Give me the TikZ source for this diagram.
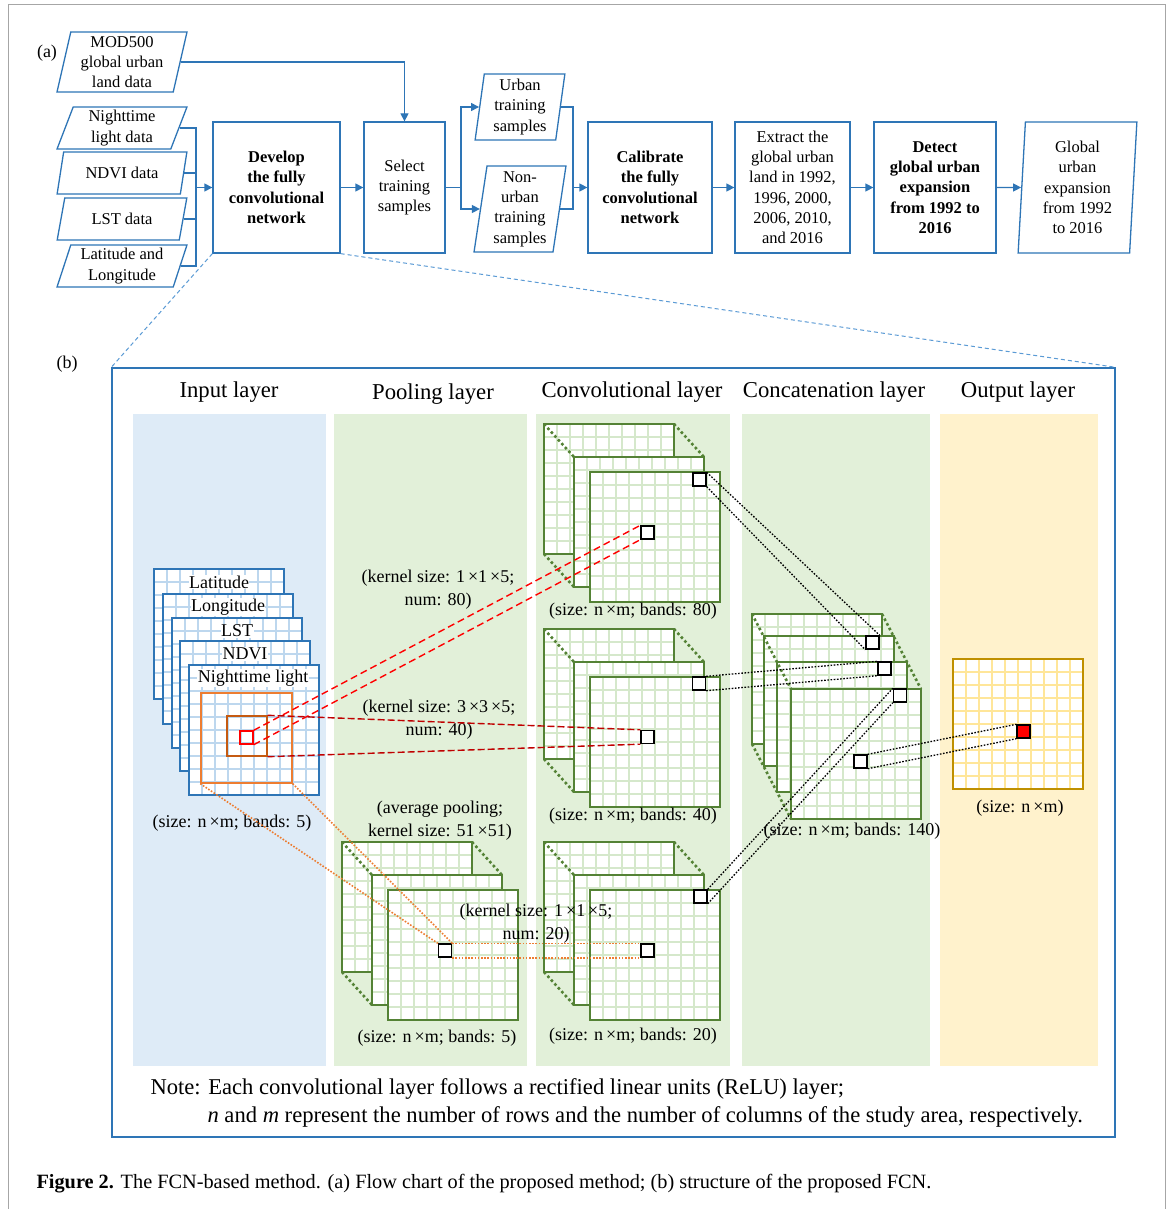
\documentclass[tikz,border=0pt]{standalone}
\usepackage{fontspec}
\setmainfont{Liberation Serif}
\usetikzlibrary{arrows.meta,shapes.geometric}

\definecolor{flowblue}{HTML}{2E75B6}
\definecolor{zoomblue}{HTML}{5B9BD5}
\definecolor{inbg}{HTML}{DEEBF7}
\definecolor{greenbg}{HTML}{E2F0D9}
\definecolor{outbg}{HTML}{FFF2CC}
\definecolor{gridblue}{HTML}{BDD7EE}
\definecolor{gridgreen}{HTML}{D5E8CB}
\definecolor{framegreen}{HTML}{548235}
\definecolor{gridgold}{HTML}{FFE699}
\definecolor{framegold}{HTML}{BF9000}
\definecolor{winorange}{HTML}{ED7D31}
\definecolor{winbrown}{HTML}{C55A11}
\definecolor{darkred}{HTML}{C00000}
\definecolor{pageframe}{HTML}{A6A6A6}

\newcommand{\flowfont}{\fontsize{16.5}{20.3}\selectfont}
\newcommand{\gridsheet}[4]{%
\begin{scope}[shift={(#1,#2)}]
\fill[white] (0,0) rectangle (130,130);
\foreach \k in {13,26,...,117}{
\draw[#3,line width=1.5pt] (\k,0) -- (\k,130);
\draw[#3,line width=1.5pt] (0,\k) -- (130,\k);}
\draw[#4,line width=1.5pt] (0,0) rectangle (130,130);
\end{scope}}
\newcommand{\threestack}[2]{%
\gridsheet{#1}{#2}{gridgreen}{framegreen}
\gridsheet{#1+30}{#2+33}{gridgreen}{framegreen}
\gridsheet{#1+46}{#2+48}{gridgreen}{framegreen}
\draw[greendots] (#1,#2) -- ++(30,33) (#1+130,#2) -- ++(30,33) (#1,#2+130) -- ++(30,33);}

\tikzset{
  box/.style={draw=flowblue, line width=1.3pt, minimum height=131pt, align=center, inner sep=2pt, font=\flowfont},
  data/.style={trapezium, trapezium stretches=true, draw=flowblue, line width=1.3pt, align=center, inner sep=1pt, font=\flowfont},
  flow/.style={draw=flowblue, line width=1.3pt, -{Triangle[length=8pt,width=8pt]}},
  link/.style={draw=flowblue, line width=1.3pt},
  zoomline/.style={draw=zoomblue, line width=1pt, dash pattern=on 4pt off 3pt},
  greendots/.style={draw=framegreen, line width=2.6pt, dash pattern=on 2.6pt off 2.6pt},
  tag/.style={fill=white, inner sep=0.5pt, font=\fontsize{18}{20}\selectfont},
  lbl/.style={align=center, inner sep=0pt, font=\fontsize{18}{23}\selectfont},
  title/.style={font=\fontsize{22.7}{26}\selectfont},
  cell/.style={draw=black, line width=1.4pt, fill=white, minimum size=13pt, inner sep=0pt},
  window/.style={line width=1.4pt, inner sep=0pt},
  reddash/.style={draw=red, line width=1.4pt, dash pattern=on 7pt off 4pt},
  darkdash/.style={draw=darkred, line width=1.4pt, dash pattern=on 7pt off 3pt},
  orangedot/.style={draw=winorange, line width=1.6pt, dash pattern=on 1.6pt off 1.6pt},
  blackdot/.style={draw=black, line width=1.3pt, dash pattern=on 1.6pt off 1.6pt}
}

\begin{document}
\begin{tikzpicture}[x=1pt,y=-1pt]
\useasboundingbox (0,0) rectangle (1171,1209);
\fill[white] (0,0) rectangle (1171,1209);
\draw[pageframe, line width=1pt] (8,1209) -- (8,5) -- (1165,5) -- (1165,1209);

\node[font=\fontsize{18}{20}\selectfont] (alabel) at (47,53) {(a)};
\node[data, trapezium left angle=78, trapezium right angle=102, minimum width=130pt, minimum height=60pt] (mod) at (122,62) {MOD500\\global urban\\land data};
\node[data, trapezium left angle=73, trapezium right angle=107, minimum width=130pt, minimum height=42pt] (night) at (122,128) {Nighttime\\light data};
\node[data, trapezium left angle=73, trapezium right angle=107, minimum width=130pt, minimum height=42pt] (ndvi) at (122,173) {NDVI data};
\node[data, trapezium left angle=73, trapezium right angle=107, minimum width=130pt, minimum height=42pt] (lst) at (122,219) {LST data};
\node[data, trapezium left angle=73, trapezium right angle=107, minimum width=130pt, minimum height=42pt] (latlon) at (122,266) {Latitude and\\Longitude};
\node[box, minimum width=127pt, font=\flowfont\bfseries] (develop) at (276.5,187.5) {Develop\\the fully\\convolutional\\network};
\node[box, minimum width=81pt] (select) at (404.5,187.5) {Select\\training\\samples};
\node[data, trapezium left angle=83, trapezium right angle=97, minimum width=90pt, minimum height=66pt] (urban) at (520,107) {Urban\\training\\samples};
\node[data, trapezium left angle=82, trapezium right angle=98, minimum width=92pt, minimum height=86pt] (nonurban) at (520,209) {Non-\\urban\\training\\samples};
\node[box, minimum width=124pt, font=\flowfont\bfseries] (calib) at (650,187.5) {Calibrate\\the fully\\convolutional\\network};
\node[box, minimum width=115pt] (extract) at (792.5,187.5) {Extract the\\global urban\\land in 1992,\\1996, 2000,\\2006, 2010,\\and 2016};
\node[box, minimum width=122pt, font=\flowfont\bfseries] (detect) at (935,187.5) {Detect\\global urban\\expansion\\from 1992 to\\2016};
\node[data, trapezium left angle=87, trapezium right angle=93, minimum width=119pt, minimum height=131pt] (globalexp) at (1077.5,187.5) {Global\\urban\\expansion\\from 1992\\to 2016};

\coordinate (bus) at (196,187.5);
\coordinate (split) at (461,187.5);
\coordinate (merge) at (573,187.5);
\draw[link] (night.east) -| (bus);
\draw[link] (ndvi.east) -| (bus);
\draw[link] (lst.east) -| (bus);
\draw[link] (latlon.east) -| (bus);
\draw[flow] (bus) -- (develop.west);
\draw[flow] (mod.east) -| (select.north);
\draw[flow] (develop.east) -- (select.west);
\draw[link] (select.east) -- (split);
\draw[flow] (split) |- (urban.west);
\draw[flow] (split) |- (nonurban.west);
\draw[link] (urban.east) -| (merge);
\draw[link] (nonurban.east) -| (merge);
\draw[flow] (merge) -- (calib.west);
\draw[flow] (calib.east) -- (extract.west);
\draw[flow] (extract.east) -- (detect.west);
\draw[flow] (detect.east) -- (globalexp.west);

\node[font=\fontsize{18}{20}\selectfont] (blabel) at (67,364) {(b)};
\node[draw=flowblue, line width=1.4pt, minimum width=1003pt, minimum height=769pt, inner sep=0pt] (panel) at (613.5,752.5) {};
\draw[zoomline] (develop.south west) -- (panel.north west);
\draw[zoomline] (develop.south east) -- (panel.north east);

\node[title] (tinput) at (229,392) {Input layer};
\node[title] (tpool) at (433,394) {Pooling layer};
\node[title] (tconv) at (632,392) {Convolutional layer};
\node[title] (tconcat) at (834,392) {Concatenation layer};
\node[title] (toutput) at (1018,392) {Output layer};
\fill[inbg] (133,414) rectangle (326,1066);
\fill[greenbg] (334,414) rectangle (527,1066);
\fill[greenbg] (536,414) rectangle (730,1066);
\fill[greenbg] (742,414) rectangle (930,1066);
\fill[outbg] (940,414) rectangle (1098,1066);

\gridsheet{154}{569}{gridblue}{flowblue}
\node[tag] (latitude) at (219,582) {Latitude};
\gridsheet{163}{594}{gridblue}{flowblue}
\node[tag] (longitude) at (228,607) {Longitude};
\gridsheet{172}{618}{gridblue}{flowblue}
\node[tag] (lstsheet) at (237,631) {LST};
\gridsheet{180}{641}{gridblue}{flowblue}
\node[tag] (ndvisheet) at (245,654) {NDVI};
\gridsheet{189}{665}{gridblue}{flowblue}
\node[tag] (nightsheet) at (253,678) {Nighttime light};
\node[window, draw=winorange, minimum width=91pt, minimum height=90pt] (poolwin) at (246.5,738) {};
\node[window, draw=winbrown, minimum width=40pt, minimum height=40pt] (convwin3) at (247,736) {};
\node[window, draw=red, minimum size=13pt] (convwin1) at (246.5,737.5) {};
\node[lbl] (insize) at (232,823) {(size: n\,×m; bands: 5)};

\threestack{342}{842}
\node[lbl] (poolk) at (440,821) {(average pooling;\\kernel size: 51\,×51)};
\node[lbl] (poolsize) at (437,1038) {(size: n\,×m; bands: 5)};

\threestack{544}{424}
\threestack{544}{629}
\threestack{544}{842}
\node[lbl] (ktop) at (438,590) {(kernel size: 1\,×1\,×5;\\num: 80)};
\node[lbl] (kmid) at (439,720) {(kernel size: 3\,×3\,×5;\\num: 40)};
\node[lbl] (kbot) at (536,924) {(kernel size: 1\,×1\,×5;\\num: 20)};
\node[lbl] (ctopsize) at (633,611) {(size: n\,×m; bands: 80)};
\node[lbl] (cmidsize) at (633,816) {(size: n\,×m; bands: 40)};
\node[lbl] (cbotsize) at (633,1036) {(size: n\,×m; bands: 20)};

\gridsheet{752}{614}{gridgreen}{framegreen}
\gridsheet{764}{636}{gridgreen}{framegreen}
\gridsheet{777}{662}{gridgreen}{framegreen}
\gridsheet{791}{689}{gridgreen}{framegreen}
\draw[greendots] (752,614) -- (791,689) (882,614) -- (921,689) (752,744) -- (791,819);
\node[lbl] (catsize) at (852,831) {(size: n\,×m; bands: 140)};

\gridsheet{953}{659}{gridgold}{framegold}
\node[lbl] (outsize) at (1020,808) {(size: n\,×m)};

\node[cell] (ctopr) at (699.5,479.5) {};
\node[cell] (ctopc) at (647.5,532.5) {};
\node[cell] (cmidr) at (699,683.5) {};
\node[cell] (cmidc) at (647.5,737) {};
\node[cell] (cbotr) at (700.5,896.5) {};
\node[cell] (cbotc) at (647.5,950.5) {};
\node[cell] (poolc) at (445,950.5) {};
\node[cell] (cata) at (872.5,642.5) {};
\node[cell] (catb) at (884.5,668.5) {};
\node[cell] (catc) at (900,695.5) {};
\node[cell] (catd) at (860.5,761.5) {};
\node[cell, fill=red] (outc) at (1023.5,731.5) {};

\draw[reddash] (convwin1.north east) -- (ctopc.north west);
\draw[reddash] (convwin1.south east) -- (ctopc.south west);
\draw[darkdash] (convwin3.north east) -- (cmidc.north west);
\draw[darkdash] (convwin3.south east) -- (cmidc.south west);
\draw[orangedot] (poolwin.south west) -- (poolc.north west);
\draw[orangedot] (poolwin.south east) -- (poolc.north east);
\draw[orangedot] (poolc.north east) -- (cbotc.north west);
\draw[orangedot] (poolc.south east) -- (cbotc.south west);
\draw[blackdot] (ctopr.north east) -- (cata.north east);
\draw[blackdot] (ctopr.south east) -- (cata.south west);
\draw[blackdot] (cmidr.north east) -- (catb.north west);
\draw[blackdot] (cmidr.south east) -- (catb.south west);
\draw[blackdot] (cbotr.north east) -- (catc.north west);
\draw[blackdot] (cbotr.south east) -- (catc.south west);
\draw[blackdot] (catd.north east) -- (outc.north west);
\draw[blackdot] (catd.south east) -- (outc.south west);

\node[anchor=west, font=\fontsize{22.6}{26}\selectfont] (note1) at (147,1089) {Note: Each convolutional layer follows a rectified linear units (ReLU) layer;};
\node[anchor=west, font=\fontsize{22.6}{26}\selectfont] (note2) at (204,1117) {\textit{n} and \textit{m} represent the number of rows and the number of columns of the study area, respectively.};
\node[anchor=west, font=\fontsize{20.3}{24}\selectfont] (caption) at (33,1184) {\textbf{Figure 2.} The FCN-based method. (a) Flow chart of the proposed method; (b) structure of the proposed FCN.};
\end{tikzpicture}
\end{document}
